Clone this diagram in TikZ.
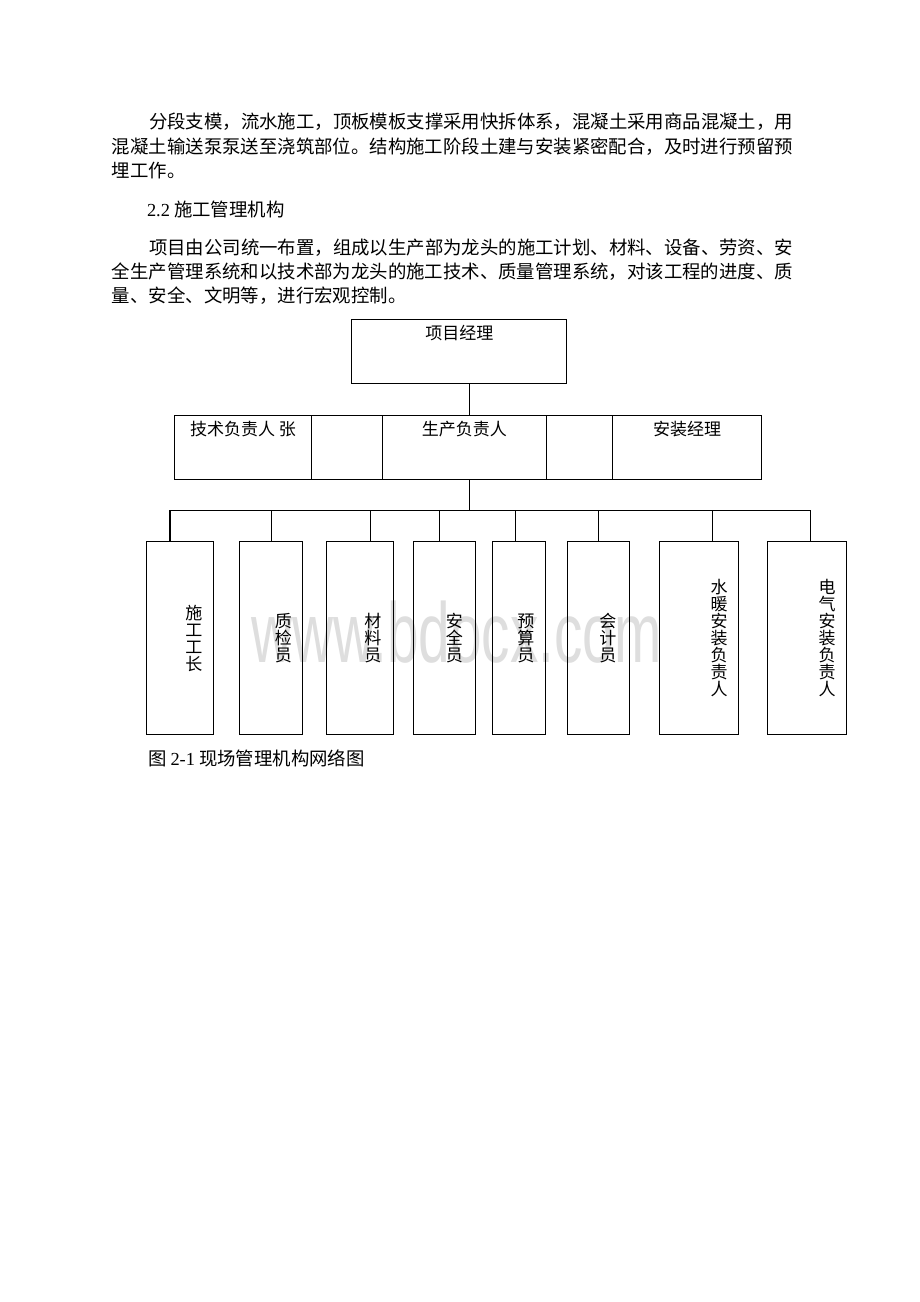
\documentclass[tikz,border=0pt]{standalone}
\usepackage{fontspec}
\setmainfont{Liberation Serif}
\newfontfamily\cjk{Noto Sans CJK SC}
\newfontfamily\wmfont{Liberation Sans}
\usetikzlibrary{positioning}
\newdimen\px
\px=0.6467pt

\begin{document}
\begin{tikzpicture}[x=\px,y=-\px,
    every node/.style={outer sep=0pt},
    para/.style={anchor=west,inner sep=0pt,font=\fontsize{11.9}{12}\selectfont\cjk},
    box/.style={draw,line width=0.65pt,inner sep=0pt},
    sz/.style 2 args={minimum width=#1\px,minimum height=#2\px},
    head/.style={anchor=north,inner sep=4pt,font=\fontsize{11}{11}\selectfont\cjk},
    vtext/.style={align=center,inner sep=0pt,font=\fontsize{11}{11}\selectfont\cjk},
    wire/.style={line width=0.65pt},
    wm/.style={anchor=base,inner sep=0pt,text=black!13,xscale=0.667,
      font=\fontsize{55}{55}\selectfont\wmfont}]
  \path[fill=white,use as bounding box] (0,0) rectangle (920,1302);

  \node[wm] (mark) at (456.5,662) {www.bdocx.com};

  \node[para] (pa) at (149,122)
    {分段支模，流水施工，顶板模板支撑采用快拆体系，混凝土采用商品混凝土，用};
  \node[para] (pb) at (112,147)
    {混凝土输送泵泵送至浇筑部位。结构施工阶段土建与安装紧密配合，及时进行预留预};
  \node[para] (pc) at (112,171) {埋工作。};
  \node[para] (sec) at (147,209) {{\rmfamily 2.2} 施工管理机构};
  \node[para] (pd) at (149,248)
    {项目由公司统一布置，组成以生产部为龙头的施工计划、材料、设备、劳资、安};
  \node[para] (pe) at (112,272)
    {全生产管理系统和以技术部为龙头的施工技术、质量管理系统，对该工程的进度、质};
  \node[para] (pf) at (112,296) {量、安全、文明等，进行宏观控制。};

  \node[box,sz={215.3}{64.7}] (pm) at (459.3,351.6) {};
  \node[head] (pmtxt) at (pm.north) {项目经理};

  \node[box,sz={137.4}{64}] (tech) at (243,447.3) {};
  \node[box,sz={71}{64},right=0pt of tech] (gapa) {};
  \node[box,sz={163.3}{64},right=0pt of gapa] (prod) {};
  \node[box,sz={66.7}{64},right=0pt of prod] (gapb) {};
  \node[box,sz={149}{64},right=0pt of gapb] (inst) {};
  \node[head] (techtxt) at (tech.north) {技术负责人 张};
  \node[head] (prodtxt) at (prod.north) {生产负责人};
  \node[head] (insttxt) at (inst.north) {安装经理};

  \coordinate (hub) at (469.5,510);
  \draw[wire] (hub |- pm.south) -- (hub |- prod.north);
  \draw[wire] (hub |- prod.south) -- (hub);

  \foreach \n/\c/\w/\t/\d/\s in {
      sg/179.9/66.3/194/170/{施\\工\\工\\长},
      zj/270.8/63/283.3/271.7/{质\\检\\员},
      cl/359.7/67.3/373/370.7/{材\\料\\员},
      aq/444/62/454.5/439/{安\\全\\员},
      ys/519/53.4/526/515/{预\\算\\员},
      kj/598.4/61.3/608/598.3/{会\\计\\员},
      sn/698.9/79.7/719/712.7/{水\\暖\\安\\装\\负\\责\\人},
      dq/807/79.4/827/810.7/{电\\气\\安\\装\\负\\责\\人}} {
    \node[box,sz={\w}{193}] (\n) at (\c,637.5) {};
    \node[vtext] (\n-t) at (\t,638) {\s};
    \coordinate (\n-top) at (\d,510);
    \draw[wire] (\n-top) -- (\n-top |- \n.north);
  }
  \draw[wire] (sg-top) -- (dq-top);

  \node[para] (cap) at (148,758) {图 {\rmfamily 2-1} 现场管理机构网络图};
\end{tikzpicture}
\end{document}
